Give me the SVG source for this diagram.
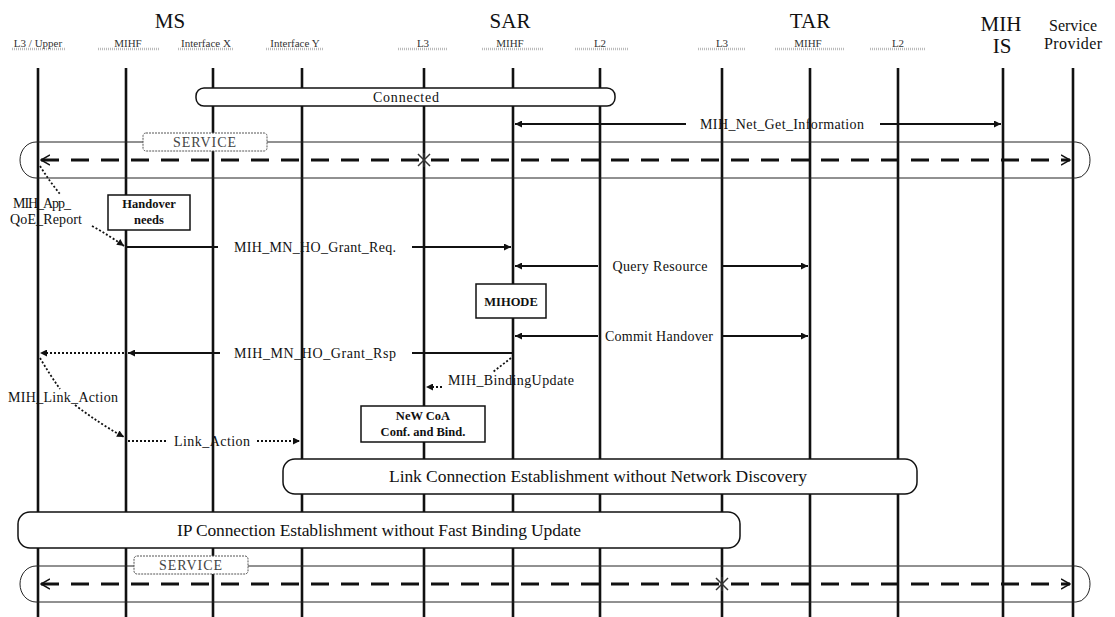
<svg xmlns="http://www.w3.org/2000/svg" width="1115" height="617" viewBox="0 0 1115 617">
<defs>
<style>
.life{stroke:#111;stroke-width:2.6;fill:none}
.hdr{font-family:"Liberation Serif",serif;font-size:21px;fill:#111;text-anchor:middle}
.hdr2{font-family:"Liberation Serif",serif;font-size:16px;fill:#111;text-anchor:middle}
.sub{font-family:"Liberation Serif",serif;font-size:11px;fill:#333;text-anchor:middle}
.subl{stroke:#bbb;stroke-width:2.5;stroke-dasharray:1 1}
.msg{font-family:"Liberation Serif",serif;font-size:14px;fill:#111;text-anchor:middle}
.bar{fill:#fff;stroke:#111;stroke-width:1.5}
.bartxt{font-family:"Liberation Serif",serif;font-size:17.5px;fill:#111;text-anchor:middle}
.box{fill:#fff;stroke:#111;stroke-width:1.5}
.boxtxt{font-family:"Liberation Serif",serif;font-size:12.5px;font-weight:bold;fill:#111;text-anchor:middle}
.solid{stroke:#111;stroke-width:1.8;fill:none}
.dot{stroke:#111;stroke-width:1.8;stroke-dasharray:2 2;fill:none}
.dash{stroke:#111;stroke-width:2.8;stroke-dasharray:18 12;fill:none}
.band{fill:none;stroke:#222;stroke-width:1}
.svc{fill:#fff;stroke:#555;stroke-width:1;stroke-dasharray:2 1}
.svctxt{font-family:"Liberation Serif",serif;font-size:14px;fill:#444;text-anchor:middle;letter-spacing:1px}
.star{stroke:#333;stroke-width:1.5}
</style>
<marker id="ah" viewBox="0 0 10 10" refX="10" refY="5" markerWidth="10" markerHeight="7" markerUnits="userSpaceOnUse" orient="auto-start-reverse"><path d="M0,0 L10,5 L0,10 z" fill="#111"/></marker>
<marker id="open" viewBox="0 0 10 10" refX="9" refY="5" markerWidth="10" markerHeight="12" markerUnits="userSpaceOnUse" orient="auto-start-reverse"><path d="M0,0 L9,5 L0,10" fill="none" stroke="#111" stroke-width="1.5"/></marker>
</defs>
<rect width="1115" height="617" fill="#fff"/>

<g id="headers">
<text class="hdr" x="170" y="28">MS</text>
<text class="hdr" x="510" y="28">SAR</text>
<text class="hdr" x="810" y="28">TAR</text>
<text class="hdr" x="1001" y="31">MIH</text>
<text class="hdr" x="1002" y="53">IS</text>
<text class="hdr2" x="1073" y="31" textLength="48">Service</text>
<text class="hdr2" x="1073" y="49" textLength="58">Provider</text>
<g id="sublabels">
<line class="subl" x1="12" y1="49" x2="66" y2="49"/><text class="sub" x="38" y="47">L3 / Upper</text>
<line class="subl" x1="98" y1="49" x2="160" y2="49"/><text class="sub" x="128" y="47">MIHF</text>
<line class="subl" x1="178" y1="49" x2="234" y2="49"/><text class="sub" x="206" y="47">Interface X</text>
<line class="subl" x1="266" y1="49" x2="324" y2="49"/><text class="sub" x="295" y="47">Interface Y</text>
<line class="subl" x1="398" y1="49" x2="448" y2="49"/><text class="sub" x="423" y="47">L3</text>
<line class="subl" x1="482" y1="49" x2="544" y2="49"/><text class="sub" x="510" y="47">MIHF</text>
<line class="subl" x1="575" y1="49" x2="628" y2="49"/><text class="sub" x="600" y="47">L2</text>
<line class="subl" x1="698" y1="49" x2="746" y2="49"/><text class="sub" x="722" y="47">L3</text>
<line class="subl" x1="775" y1="49" x2="845" y2="49"/><text class="sub" x="808" y="47">MIHF</text>
<line class="subl" x1="870" y1="49" x2="925" y2="49"/><text class="sub" x="898" y="47">L2</text>
</g>
</g>

<g id="lifelines">
<line class="life" x1="38" y1="68" x2="38" y2="617"/>
<line class="life" x1="126" y1="68" x2="126" y2="617"/>
<line class="life" x1="213" y1="68" x2="213" y2="617"/>
<line class="life" x1="302" y1="68" x2="302" y2="617"/>
<line class="life" x1="424" y1="68" x2="424" y2="617"/>
<line class="life" x1="513" y1="68" x2="513" y2="617"/>
<line class="life" x1="600" y1="68" x2="600" y2="617"/>
<line class="life" x1="722" y1="68" x2="722" y2="617"/>
<line class="life" x1="810" y1="68" x2="810" y2="617"/>
<line class="life" x1="898" y1="68" x2="898" y2="617"/>
<line class="life" x1="1003" y1="68" x2="1003" y2="617"/>
<line class="life" x1="1073" y1="68" x2="1073" y2="617"/>
</g>

<g id="connected">
<rect class="bar" x="196" y="88" width="419" height="18" rx="8"/>
<text class="msg" x="406" y="102" textLength="66">Connected</text>
</g>

<g id="service-top">
<path class="band" d="M36,142 H1076 A14,18 0 0 1 1076,178 H36 A16,18 0 0 1 36,142 Z"/>
<rect class="svc" x="143" y="133" width="124" height="18" rx="3"/>
<text class="svctxt" x="205" y="147">SERVICE</text>
</g>

<g id="service-bottom">
<path class="band" d="M36,566 H1076 A14,18 0 0 1 1076,602 H36 A16,18 0 0 1 36,566 Z"/>
<rect class="svc" x="134" y="556" width="114" height="18" rx="3"/>
<text class="svctxt" x="191" y="570">SERVICE</text>
</g>

<g id="handover-needs">
<rect class="box" x="108" y="195" width="82" height="35"/>
<text class="boxtxt" x="149" y="208">Handover</text>
<text class="boxtxt" x="149" y="224">needs</text>
</g>

<g id="mihode">
<rect class="box" x="476" y="284" width="70" height="34"/>
<text class="boxtxt" x="511" y="306">MIHODE</text>
</g>

<g id="new-coa">
<rect class="box" x="361" y="406" width="124" height="36"/>
<text class="boxtxt" x="423" y="420">NeW CoA</text>
<text class="boxtxt" x="423" y="436">Conf. and Bind.</text>
</g>

<g id="link-conn">
<rect class="bar" x="283" y="459" width="634" height="35" rx="12"/>
<text class="bartxt" x="598" y="482" textLength="418">Link Connection Establishment without Network Discovery</text>
</g>

<g id="ip-conn">
<rect class="bar" x="18" y="512" width="722" height="36" rx="12"/>
<text class="bartxt" x="379" y="536" textLength="404">IP Connection Establishment without Fast Binding Update</text>
</g>

<g id="connectors">
<line class="dash" x1="41" y1="160" x2="1070" y2="160" marker-start="url(#open)" marker-end="url(#open)"/>
<line class="dash" x1="41" y1="584" x2="1070" y2="584" marker-start="url(#open)" marker-end="url(#open)"/>
<g class="star">
<line x1="418" y1="154" x2="430" y2="166"/><line x1="430" y1="154" x2="418" y2="166"/><line x1="424" y1="153" x2="424" y2="167"/>
<line x1="716" y1="578" x2="728" y2="590"/><line x1="728" y1="578" x2="716" y2="590"/><line x1="722" y1="577" x2="722" y2="591"/>
</g>
<line class="solid" x1="515" y1="124" x2="686" y2="124" marker-start="url(#ah)"/>
<line class="solid" x1="880" y1="124" x2="1001" y2="124" marker-end="url(#ah)"/>
<text class="msg" x="782" y="129" textLength="164">MIH_Net_Get_Information</text>
<path class="dot" d="M40,166 Q50,182 60,194"/>
<path class="dot" d="M92,226 Q110,236 124,246" marker-end="url(#ah)"/>
<text class="msg" x="42" y="208" textLength="58">MIH_App_</text>
<text class="msg" x="46" y="224" textLength="72">QoE_Report</text>
<line class="solid" x1="126" y1="247" x2="218" y2="247"/>
<line class="solid" x1="412" y1="247" x2="511" y2="247" marker-end="url(#ah)"/>
<text class="msg" x="315" y="252" textLength="162">MIH_MN_HO_Grant_Req.</text>
<line class="solid" x1="515" y1="266" x2="598" y2="266" marker-start="url(#ah)"/>
<line class="solid" x1="722" y1="266" x2="808" y2="266" marker-end="url(#ah)"/>
<text class="msg" x="660" y="271" textLength="95">Query Resource</text>
<line class="solid" x1="515" y1="336" x2="598" y2="336" marker-start="url(#ah)"/>
<line class="solid" x1="722" y1="336" x2="808" y2="336" marker-end="url(#ah)"/>
<text class="msg" x="659" y="341" textLength="108">Commit Handover</text>
<line class="solid" x1="513" y1="353" x2="412" y2="353"/>
<line class="solid" x1="220" y1="353" x2="128" y2="353" marker-end="url(#ah)"/>
<text class="msg" x="315" y="358" textLength="162">MIH_MN_HO_Grant_Rsp</text>
<line class="dot" x1="124" y1="353" x2="40" y2="353" marker-end="url(#ah)"/>
<path class="dot" d="M511,358 L493,372" stroke-dasharray="4 2"/>
<line class="dot" x1="442" y1="387" x2="426" y2="387" stroke-dasharray="4 2" marker-end="url(#ah)"/>
<text class="msg" x="511" y="385" textLength="126">MIH_BindingUpdate</text>
<path class="dot" d="M40,358 Q50,375 60,389"/>
<path class="dot" d="M75,405 Q100,424 124,437" marker-end="url(#ah)"/>
<text class="msg" x="63" y="402" textLength="110">MIH_Link_Action</text>
<line class="dot" x1="128" y1="441" x2="168" y2="441"/>
<line class="dot" x1="257" y1="441" x2="300" y2="441" marker-end="url(#ah)"/>
<text class="msg" x="212" y="446" textLength="76">Link_Action</text>
</g>
</svg>
